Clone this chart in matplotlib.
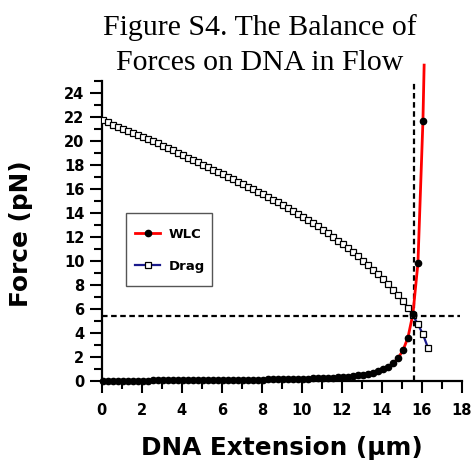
import matplotlib
matplotlib.use("Agg")
import matplotlib.pyplot as plt
from matplotlib.ticker import MultipleLocator
from matplotlib.lines import Line2D
from matplotlib.patches import Rectangle

# ---- data ----
extension = [0.05 + 0.25 * k for k in range(66)]  # µm grid of the samples

drag_force = [21.70, 21.53, 21.35, 21.18, 21.00, 20.83, 20.65, 20.48, 20.30, 20.13,
              19.95, 19.78, 19.60, 19.40, 19.20, 19.00, 18.80, 18.60, 18.40, 18.20,
              18.00, 17.80, 17.60, 17.40, 17.20, 16.99, 16.78, 16.57, 16.36, 16.15,
              15.94, 15.73, 15.52, 15.31, 15.10, 14.89, 14.68, 14.42, 14.16, 13.90,
              13.64, 13.38, 13.12, 12.86, 12.60, 12.29, 11.98, 11.67, 11.36, 11.05,
              10.74, 10.37, 9.99, 9.62, 9.24, 8.87, 8.49, 8.03, 7.57, 7.11,
              6.65, 6.09, 5.45, 4.70, 3.87, 2.75]

wlc_force = [0.00, 0.002, 0.004, 0.006, 0.008, 0.010, 0.012, 0.014, 0.016, 0.018,
             0.020, 0.023, 0.025, 0.028, 0.030, 0.033, 0.036, 0.038, 0.041, 0.044,
             0.047, 0.050, 0.053, 0.057, 0.060, 0.064, 0.068, 0.072, 0.077, 0.082,
             0.087, 0.092, 0.097, 0.103, 0.110, 0.117, 0.124, 0.133, 0.141, 0.151,
             0.162, 0.175, 0.189, 0.203, 0.219, 0.240, 0.262, 0.288, 0.316, 0.350,
             0.391, 0.440, 0.500, 0.574, 0.667, 0.785, 0.941, 1.151, 1.442, 1.867,
             2.52, 3.595, 5.57, 9.79, 21.66]
wlc_line_ext_end = 16.11
wlc_line_force_end = 26.3

balance_extension = 15.58
balance_force = 5.39

title_lines = ["Figure S4. The Balance of", "Forces on DNA in Flow"]
xlabel = "DNA Extension (\u00b5m)"
ylabel = "Force (pN)"
legend_labels = ["WLC", "Drag"]

SANS = ["DejaVu Sans"]
SERIF = ["Liberation Serif", "DejaVu Serif"]

# ---- figure ----
W, H = 474, 466
fig = plt.figure(figsize=(W / 100, H / 100), dpi=100)
ax = fig.add_axes([0.2146, 0.183, 0.760, 0.6438])

wlc_x = extension[:len(wlc_force)]
# red WLC curve (continues above the axes)
ax.plot(wlc_x + [wlc_line_ext_end], wlc_force + [wlc_line_force_end],
        color="#ff0000", lw=2.0, clip_on=False, zorder=3)
# drag
ax.plot(extension, drag_force, color="#1a1a8c", lw=1.6, marker="s", ms=4.2,
        mfc="white", mec="black", mew=0.9, zorder=4)
# WLC dots
ax.plot(wlc_x, wlc_force, ls="none", marker="o", ms=4.5, color="black",
        zorder=5, clip_on=False)

# balance lines
ax.plot([0, 17.9], [balance_force, balance_force], color="black", lw=1.6,
        dashes=(2.5, 1.6), zorder=2, clip_on=False)
ax.plot([balance_extension, balance_extension], [0, 24.8], color="black", lw=1.6,
        dashes=(2.5, 1.6), zorder=2, clip_on=False)

ax.set_xlim(0, 18)
ax.set_ylim(0, 25)
ax.xaxis.set_major_locator(MultipleLocator(2))
ax.xaxis.set_minor_locator(MultipleLocator(1))
ax.set_yticks(list(range(0, 25, 2)))
ax.yaxis.set_minor_locator(MultipleLocator(1))

for s in ["top", "right"]:
    ax.spines[s].set_visible(False)
for s in ["left", "bottom"]:
    ax.spines[s].set_linewidth(1.6)

ax.tick_params(which="major", direction="out", length=8.5, width=1.5,
               labelsize=10.5)
ax.tick_params(axis="x", which="major", pad=7.5)
ax.tick_params(axis="y", which="major", pad=4)
ax.tick_params(which="minor", direction="out", length=5.5, width=1.5)
for lab in ax.get_xticklabels() + ax.get_yticklabels():
    lab.set_fontfamily(SANS)
    lab.set_fontweight("bold")

ax.set_xlabel(xlabel, fontsize=17.8, fontweight="bold", family=SANS)
ax.set_ylabel(ylabel, fontsize=17.8, fontweight="bold", family=SANS)
ax.xaxis.set_label_coords(0.5, -0.184)
ax.yaxis.set_label_coords(-0.191, 0.49)

# legend (frame drawn as its own rectangle)
h_wlc = Line2D([], [], color="#ff0000", lw=2.0, marker="o", ms=4.5,
               mfc="black", mec="black")
h_drag = Line2D([], [], color="#1a1a8c", lw=1.6, marker="s", ms=4.2,
                mfc="white", mec="black", mew=0.9)
bx0, by0, bx1, by1 = 125.7, 213.3, 211.7, 286.0
fig.patches.append(Rectangle((bx0 / W, 1 - by1 / H), (bx1 - bx0) / W,
                             (by1 - by0) / H, transform=fig.transFigure,
                             facecolor="white", edgecolor="#555555", lw=1.0,
                             zorder=1))
leg = fig.legend([h_wlc, h_drag], legend_labels, loc="center",
                 bbox_to_anchor=((bx0 + bx1) / 2 / W + 0.002, 1 - 250.5 / H),
                 frameon=False,
                 prop={"family": SANS, "weight": "bold", "size": 9.5},
                 handlelength=1.95, labelspacing=1.45, borderpad=0,
                 handletextpad=0.6, borderaxespad=0)
leg.set_zorder(2)

# title
fig.text(0.5485, 1 - 35 / H, title_lines[0], ha="center", va="baseline",
         fontsize=21.5, family=SERIF)
fig.text(0.5485, 1 - 70 / H, title_lines[1], ha="center", va="baseline",
         fontsize=21.5, family=SERIF)

fig.savefig("out.png", dpi=100)
